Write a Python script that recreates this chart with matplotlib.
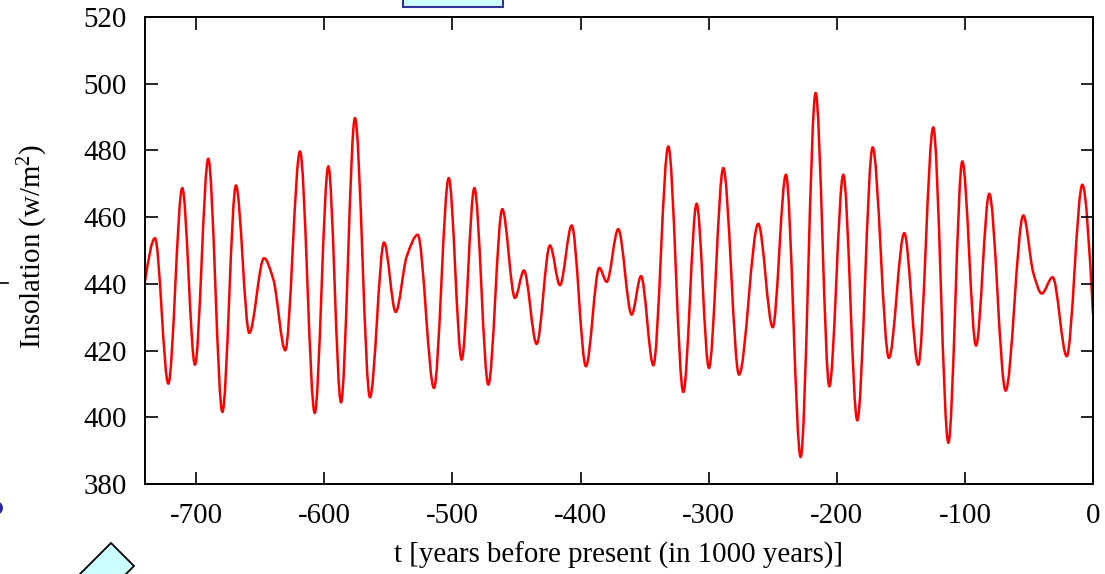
import numpy as np
import matplotlib
matplotlib.use("Agg")
import matplotlib.pyplot as plt
from matplotlib.path import Path
from matplotlib.patches import PathPatch, Rectangle, Ellipse, Polygon

# ---- data: turning points of the insolation curve (kyr before present, W/m^2)
t_kyr = [-740, -732.2, -721.8, -710.9, -701.0, -690.6, -679.6, -669.0, -658.6, -647.1,
         -639.8, -630.5, -619.0, -607.5, -596.9, -587.0, -576.1, -564.4, -553.4, -544.3,
         -535.7, -527.1, -514.4, -502.9, -492.8, -482.9, -472.0, -461.1, -451.2, -444.2,
         -434.3, -423.9, -416.1, -406.9, -395.8, -385.4, -379.6, -370.6, -360.1, -352.8,
         -343.2, -331.5, -319.8, -309.4, -299.8, -288.6, -276.3, -261.3, -250.0, -239.7,
         -228.2, -216.5, -205.8, -194.9, -184.0, -172.0, -159.3, -147.3, -136.4, -124.7,
         -112.9, -102.0, -91.3, -81.0, -68.2, -54.4, -46.6, -40.0, -31.5, -20.5, -8.3, 0]
insolation = [440.7, 453.7, 410.1, 468.7, 415.8, 477.5, 401.6, 469.5, 425.3, 447.7,
              441.3, 420.1, 479.7, 401.3, 475.2, 404.5, 489.7, 406.0, 452.4, 431.6,
              448.2, 454.7, 408.8, 471.7, 417.3, 468.7, 409.8, 462.4, 435.8, 444.0,
              422.0, 451.5, 439.6, 457.5, 415.3, 444.8, 440.6, 456.4, 430.8, 442.3,
              415.6, 481.2, 407.6, 464.0, 414.8, 474.7, 412.8, 458.0, 427.0, 472.7,
              388.1, 497.2, 409.3, 472.7, 399.1, 480.9, 417.8, 455.2, 415.8, 486.9,
              392.4, 476.7, 421.5, 467.0, 408.0, 460.5, 443.3, 437.1, 442.0, 418.3,
              469.7, 431.0]
x_ticks = [-700, -600, -500, -400, -300, -200, -100, 0]
y_ticks = [380, 400, 420, 440, 460, 480, 500, 520]
x_label = "t [years before present (in 1000 years)]"
y_label = "Insolation (w/m$^{2}$)"

plt.rcParams["font.family"] = ["Liberation Serif", "DejaVu Serif"]
plt.rcParams["mathtext.fontset"] = "custom"
plt.rcParams["mathtext.rm"] = "Liberation Serif"
plt.rcParams["mathtext.it"] = "Liberation Serif:italic"

FS = 20.8
W, H = 1105, 574
fig = plt.figure(figsize=(W / 100, H / 100), dpi=100)
ax = fig.add_axes([145 / W, 1 - 484 / H, (1093 - 145) / W, (484 - 17) / H])

# smooth curve through turning points (cubic Bezier segments, monotone tangents)
t = np.asarray(t_kyr, float)
v = np.asarray(insolation, float)
h = np.diff(t)
d = np.diff(v) / h
m = np.zeros_like(v)
for k in range(1, len(v) - 1):
    if d[k - 1] * d[k] > 0:
        w1 = 2 * h[k] + h[k - 1]
        w2 = h[k] + 2 * h[k - 1]
        m[k] = (w1 + w2) / (w1 / d[k - 1] + w2 / d[k])
m[0] = 1.5 * d[0]
m[-1] = 1.5 * d[-1]
verts = [(t[0], v[0])]
codes = [Path.MOVETO]
for k in range(len(h)):
    verts += [(t[k] + h[k] / 3, v[k] + m[k] * h[k] / 3),
              (t[k + 1] - h[k] / 3, v[k + 1] - m[k + 1] * h[k] / 3),
              (t[k + 1], v[k + 1])]
    codes += [Path.CURVE4] * 3
ax.add_patch(PathPatch(Path(verts, codes), fill=False, edgecolor="#ff0000", lw=1.8))

ax.set_xlim(-740, 0)
ax.set_ylim(380, 520)
ax.set_xticks(x_ticks)
ax.set_yticks(y_ticks)
ax.set_xticklabels([str(x) for x in x_ticks])
ax.tick_params(direction="in", length=9, width=1.2, top=True, right=True,
               labelsize=FS, colors="black")
ax.tick_params(axis="x", pad=14)
ax.tick_params(axis="y", pad=13)
for s in ax.spines.values():
    s.set_linewidth(1.4)

fig.text(619 / W, 1 - 555 / H, x_label, ha="center", va="center", fontsize=FS)
fig.text(33 / W, 1 - 246 / H, y_label, ha="center", va="center", rotation=90, fontsize=FS)

# slide decorations around the chart
def px(x, y):
    return (x / W, 1 - y / H)

fig.patches.append(Rectangle(px(403, 7), 100 / W, 10 / H, transform=fig.transFigure,
                             facecolor="#ccffff", edgecolor="#333399", lw=1.5))
fig.patches.append(Polygon([px(111, 543), px(134, 566), px(93, 607), px(70, 584)],
                           closed=True, transform=fig.transFigure,
                           facecolor="#ccffff", edgecolor="black", lw=1.3))
fig.patches.append(Ellipse(px(-4, 508), 14 / W, 14 / H, transform=fig.transFigure,
                           facecolor="#2a2a9a", edgecolor="none"))
fig.lines.append(plt.Line2D([0, 8 / W], [1 - 283 / H, 1 - 283 / H],
                            transform=fig.transFigure, color="black", lw=1.2))

fig.savefig("out.png", dpi=100)
